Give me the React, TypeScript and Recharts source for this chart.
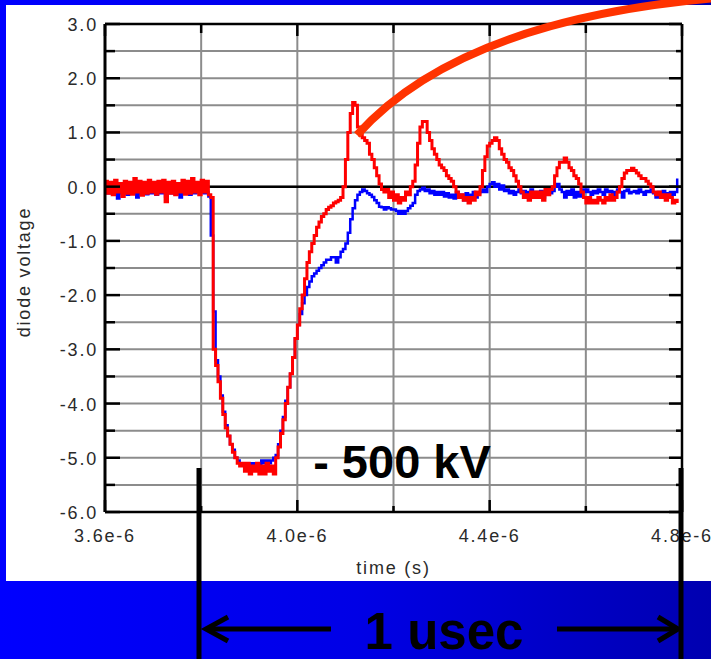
/**
 * Diode voltage trace: two scope channels, -500 kV pulse, 1 usec marker.
 */

import React from 'react';
import {
  LineChart, Line, XAxis, YAxis, CartesianGrid, ReferenceLine,
} from 'recharts';

const W = 711;
const H = 659;
// plot box edges (px)
const PL = 105;
const PR = 682;
const PT = 24;
const PB = 512;

// scope samples: time in microseconds, one sample every 5 ns from 3.600 us
const T_START = 3.6;
const T_STEP = 0.005;

// red channel (V), rows of 0.1 us
const RED = [
  0.1, -0.12, 0.08, -0.15, 0.12, -0.1, 0.06, -0.18, 0.1, -0.12, 0.08, -0.14, 0.15, -0.1, 0.1, -0.16, 0.08, -0.12, 0.12, -0.1,
  0.08, -0.14, 0.1, -0.1, 0.12, -0.28, 0.08, -0.12, 0.1, -0.15, 0.06, -0.1, 0.12, -0.14, 0.1, -0.12, 0.15, -0.1, 0.08, -0.15,
  0.12, -0.1, 0.1, -0.15, -0.2, -3.0, -3.3, -3.6, -3.9, -4.2, -4.45, -4.6, -4.75, -4.9, -5.0, -5.1, -5.15, -5.1, -5.25, -5.1,
  -5.3, -5.15, -5.25, -5.1, -5.3, -5.15, -5.3, -5.1, -5.25, -5.15, -5.3, -5.0, -4.8, -4.55, -4.3, -4.0, -3.7, -3.45, -3.15, -2.8,
  -2.55, -2.25, -2.0, -1.7, -1.4, -1.2, -1.05, -0.9, -0.75, -0.65, -0.55, -0.5, -0.42, -0.38, -0.35, -0.3, -0.28, -0.25, -0.2, 0.0,
  0.5, 1.0, 1.35, 1.55, 1.5, 1.1, 0.95, 0.9, 0.85, 0.8, 0.6, 0.5, 0.35, 0.2, 0.05, -0.05, -0.1, -0.05, -0.2, -0.1,
  -0.25, -0.15, -0.3, -0.2, -0.25, -0.1, -0.15, 0.0, 0.1, 0.4, 0.8, 1.1, 1.2, 1.2, 1.0, 0.85, 0.7, 0.6, 0.5, 0.4,
  0.35, 0.3, 0.2, 0.15, 0.1, 0.0, -0.1, -0.2, -0.15, -0.25, -0.2, -0.3, -0.2, -0.25, -0.1, -0.15, 0.0, 0.3, 0.55, 0.75,
  0.8, 0.85, 0.9, 0.85, 0.7, 0.6, 0.5, 0.45, 0.35, 0.3, 0.2, 0.1, 0.0, -0.1, -0.2, -0.15, -0.25, -0.1, -0.2, -0.1,
  -0.2, -0.1, -0.25, -0.05, -0.15, -0.05, 0.0, 0.2, 0.35, 0.45, 0.45, 0.53, 0.45, 0.35, 0.3, 0.2, 0.15, 0.05, -0.1, -0.2,
  -0.3, -0.2, -0.3, -0.25, -0.3, -0.2, -0.25, -0.3, -0.2, -0.25, -0.15, -0.25, -0.2, -0.1, 0.0, 0.15, 0.25, 0.3, 0.3, 0.34,
  0.3, 0.25, 0.2, 0.15, 0.15, 0.1, 0.05, 0.0, -0.1, -0.15, -0.1, -0.2, -0.15, -0.25, -0.15, -0.2, -0.3, -0.25, -0.3,
];

// blue channel (V)
const BLUE = [
  -0.1, -0.12, -0.08, -0.14, -0.1, -0.22, -0.08, -0.12, -0.1, -0.15, -0.08, -0.12, -0.1, -0.2, -0.1, -0.12, -0.08, -0.14, -0.1, -0.12,
  -0.08, -0.15, -0.1, -0.12, -0.1, -0.18, -0.08, -0.12, -0.1, -0.14, -0.08, -0.2, -0.1, -0.12, -0.08, -0.15, -0.1, -0.12, -0.1, -0.1,
  -0.1, -0.12, -0.1, -0.18, -0.9, -2.3, -3.2, -3.5, -3.85, -4.15, -4.4, -4.6, -4.75, -4.85, -5.0, -5.05, -5.1, -5.1, -5.15, -5.1,
  -5.15, -5.1, -5.15, -5.1, -5.15, -5.05, -5.1, -5.05, -5.1, -5.05, -5.0, -4.95, -4.75, -4.5, -4.25, -3.95, -3.7, -3.45, -3.15, -2.8,
  -2.55, -2.35, -2.15, -2.0, -1.85, -1.75, -1.65, -1.6, -1.55, -1.5, -1.45, -1.4, -1.35, -1.35, -1.3, -1.3, -1.4, -1.3, -1.2, -1.15,
  -1.05, -0.85, -0.6, -0.4, -0.25, -0.15, -0.1, -0.05, -0.08, -0.12, -0.15, -0.19, -0.25, -0.3, -0.37, -0.38, -0.42, -0.38, -0.4, -0.42,
  -0.42, -0.45, -0.5, -0.45, -0.5, -0.45, -0.4, -0.35, -0.3, -0.15, -0.08, -0.05, -0.02, -0.08, -0.05, -0.12, -0.08, -0.15, -0.1, -0.15,
  -0.1, -0.18, -0.12, -0.2, -0.15, -0.22, -0.1, -0.2, -0.15, -0.25, -0.12, -0.2, -0.15, -0.1, -0.2, -0.12, -0.1, -0.05, -0.1, 0.0,
  0.05, 0.08, 0.0, 0.05, -0.05, 0.02, -0.08, -0.05, -0.12, -0.08, -0.15, -0.1, -0.05, -0.12, -0.08, -0.15, -0.1, -0.05, -0.12, -0.1,
  -0.15, -0.08, -0.2, -0.1, -0.05, -0.12, -0.08, 0.0, 0.05, -0.05, -0.1, -0.2, -0.08, -0.15, -0.05, -0.2, -0.1, -0.18, -0.05, -0.1,
  -0.05, -0.1, -0.15, -0.08, -0.12, -0.05, -0.1, -0.15, -0.05, -0.1, -0.08, -0.15, -0.1, -0.05, -0.1, -0.2, -0.08, -0.05, -0.12, -0.1,
  -0.08, -0.12, -0.05, -0.1, -0.15, -0.08, -0.1, -0.05, -0.12, -0.2, -0.1, -0.15, -0.08, -0.12, -0.2, -0.1, -0.15, -0.1, 0.15,
];

const X_TICKS = [3.6, 3.8, 4.0, 4.2, 4.4, 4.6, 4.8];
const X_LABELED = [3.6, 4.0, 4.4, 4.8];
const Y_TICKS = [-6, -5.5, -5, -4.5, -4, -3.5, -3, -2.5, -2, -1.5, -1, -0.5, 0, 0.5, 1, 1.5, 2, 2.5, 3];

const data = RED.map((r, i) => ({
  t: +(T_START + i * T_STEP).toFixed(3),
  red: r,
  blue: BLUE[i],
}));

const tickFont = {
  fontFamily: '"Liberation Sans", Arial, sans-serif',
  fontSize: 18,
  letterSpacing: '1.8px',
  fill: '#2a2a2a',
};

const YTick = ({ y, payload }: any) => {
  const v = payload.value;
  const major = Number.isInteger(v);
  return (
    <g>
      <line x1={PL} x2={PL + (major ? 15 : 10)} y1={y} y2={y} stroke="#000" strokeWidth={2.5} />
      <line x1={PR - (major ? 13 : 6)} x2={PR} y1={y} y2={y} stroke="#000" strokeWidth={2.5} />
      {major && (
        <text x={PL - 7} y={y + 7} textAnchor="end" style={tickFont}>
          {v.toFixed(1)}
        </text>
      )}
    </g>
  );
};

const XTick = ({ x, payload }: any) => {
  const v = payload.value;
  const major = X_LABELED.includes(v);
  return (
    <g>
      <line x1={x} x2={x} y1={PB} y2={PB - (major ? 12 : 6)} stroke="#000" strokeWidth={2.5} />
      <line x1={x} x2={x} y1={PT} y2={PT + (major ? 12 : 9)} stroke="#000" strokeWidth={2.5} />
      {major && (
        <text x={x} y={PB + 30} textAnchor="middle" style={tickFont}>
          {`${v.toFixed(1)}e-6`}
        </text>
      )}
    </g>
  );
};

export default function App() {
  return (
    <div
      style={{
        position: 'absolute', left: 0, top: 0, width: W, height: H, overflow: 'hidden',
        background: 'linear-gradient(90deg, #0000ff 0%, #0000e6 50%, #0000b0 100%)',
      }}
    >
      <div style={{ position: 'absolute', left: 6, top: 5, width: W - 6, height: 576, background: '#fff' }} />

      <div style={{ position: 'absolute', left: 0, top: 0 }}>
        <LineChart
          width={W}
          height={H}
          data={data}
          margin={{ top: PT, right: W - PR, left: 5, bottom: H - PB - 30 }}
        >
          <CartesianGrid stroke="#8c8c8c" strokeWidth={2} />
          <XAxis
            dataKey="t"
            type="number"
            domain={[3.6, 4.8]}
            ticks={X_TICKS}
            interval={0}
            height={30}
            tickLine={false}
            axisLine={{ stroke: '#000', strokeWidth: 2.5 }}
            tick={(p: any) => <XTick {...p} />}
            label={{
              content: () => (
                <text x={(PL + PR) / 2} y={574} textAnchor="middle" style={tickFont}>
                  time (s)
                </text>
              ),
            }}
          />
          <YAxis
            type="number"
            domain={[-6, 3]}
            ticks={Y_TICKS}
            interval={0}
            width={100}
            tickLine={false}
            axisLine={{ stroke: '#000', strokeWidth: 3 }}
            tick={(p: any) => <YTick {...p} />}
            label={{
              content: () => (
                <text
                  transform={`translate(30, ${(PT + PB) / 2 + 4}) rotate(-90)`}
                  textAnchor="middle"
                  style={tickFont}
                >
                  diode voltage
                </text>
              ),
            }}
          />
          <ReferenceLine y={3} stroke="#000" strokeWidth={2.5} />
          <ReferenceLine x={4.8} stroke="#000" strokeWidth={2.5} />
          <ReferenceLine y={0} stroke="#000" strokeWidth={2.5} />
          <Line
            type="stepAfter"
            dataKey="blue"
            stroke="#0000ff"
            strokeWidth={2.5}
            dot={false}
            isAnimationActive={false}
          />
          <Line
            type="stepAfter"
            dataKey="red"
            stroke="#ff0000"
            strokeWidth={3}
            dot={false}
            isAnimationActive={false}
          />
        </LineChart>
      </div>

      {/* slide annotations */}
      <svg
        width={W}
        height={H}
        style={{ position: 'absolute', left: 0, top: 0, pointerEvents: 'none' }}
      >
        <path d="M357,135 Q460,20 716,-2" fill="none" stroke="#ff3300" strokeWidth={8} />
        <text
          x={402}
          y={478}
          textAnchor="middle"
          style={{ fontFamily: '"Liberation Sans", Arial, sans-serif', fontWeight: 'bold', fontSize: 47 }}
        >
          - 500 kV
        </text>
        <line x1={199} x2={199} y1={468} y2={H} stroke="#000" strokeWidth={5} />
        <line x1={681} x2={681} y1={468} y2={H} stroke="#000" strokeWidth={5} />
        <line x1={207} x2={331} y1={629} y2={629} stroke="#000" strokeWidth={5} />
        <polyline points="228,617 206,629 228,641" fill="none" stroke="#000" strokeWidth={5} />
        <line x1={557} x2={677} y1={629} y2={629} stroke="#000" strokeWidth={5} />
        <polyline points="658,617 678,629 658,641" fill="none" stroke="#000" strokeWidth={5} />
        <text
          x={444}
          y={649}
          textAnchor="middle"
          style={{ fontFamily: '"Liberation Sans", Arial, sans-serif', fontWeight: 'bold', fontSize: 51 }}
        >
          1 usec
        </text>
      </svg>
    </div>
  );
}
